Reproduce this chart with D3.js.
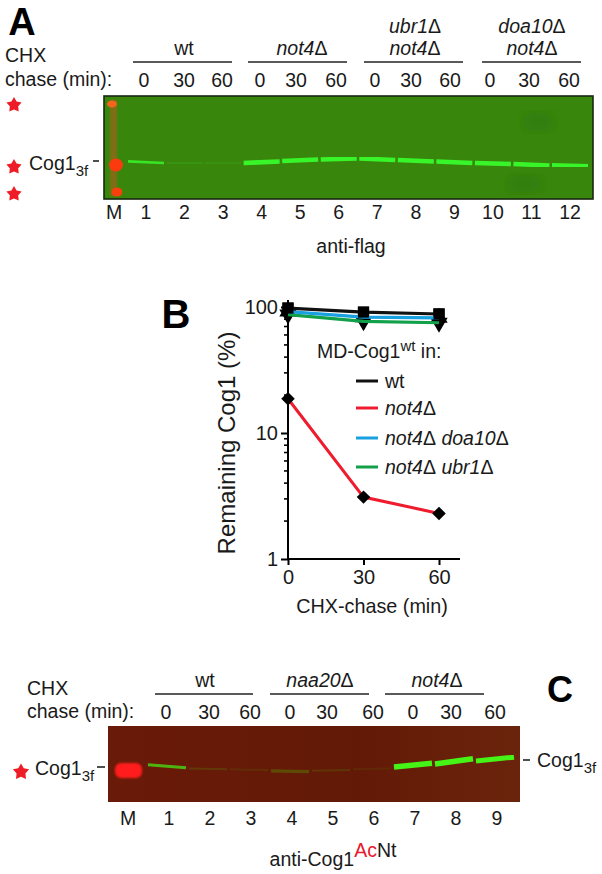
<!DOCTYPE html>
<html><head><meta charset="utf-8">
<script src="https://cdn.jsdelivr.net/npm/d3@7"></script>
<style>html,body{margin:0;padding:0;background:#fff}svg{display:block}text{font-family:"Liberation Sans",Arial,sans-serif;fill:#1a1a1a}</style>
</head><body><svg id="c" width="602" height="874"></svg>
<script>
// Panel B data
const times=[0,30,60];
const seriesNames=["wt","not4","not4 doa10","not4 ubr1"];
const wtValues=[98,91,88];
const not4Values=[18.7,3.1,2.3];
const doa10Values=[92,83,82];
const ubr1Values=[87,77,75];
const yTickValues=[1,10,100];
// Panel A data
const lanesA=[1,2,3,4,5,6,7,8,9,10,11,12];
const intensityA=[0.85,0.18,0.14,1,1,1,1,1,1,1,1,1];
const thickA=[2.6,1.5,1.5,4.6,4.6,4.6,4.6,4.6,4.6,4.6,4.6,4];
const migLeftA=[63.5,65,65,65,63.1,61.7,60.7,62.1,63.6,65,66,67];
const migRightA=[65,65,65,63.6,61.7,60.7,62.1,63.6,65,66,67.5,68];
const chaseLabels=["0","30","60"];
// Panel C data
const lanesC=[1,2,3,4,5,6,7,8,9];
const intensityC=[0.7,0.14,0.08,0.22,0.12,0.06,1,1,1];
const thickC=[3,2,2,3.4,2,2,5.6,5.6,5];
const migLeftC=[51,56,57,59,59,57,54,50,46];
const migRightC=[55,57,58,60,58,56,49,43,41];

const svg=d3.select("#c");
const defs=svg.append("defs");
defs.append("filter").attr("id","soft").append("feGaussianBlur").attr("stdDeviation",0.8);
defs.append("filter").attr("id","soft2").append("feGaussianBlur").attr("stdDeviation",6);
defs.append("filter").attr("id","soft3").append("feGaussianBlur").attr("stdDeviation",0.45);
const FS=19.5;
function txt(x,y,s,o={}){
  const t=svg.append("text").attr("x",x).attr("y",y)
    .attr("font-size",o.size||FS).attr("text-anchor",o.anchor||"middle");
  if(o.weight)t.attr("font-weight",o.weight);
  if(o.fill)t.style("fill",o.fill);
  t.text(s);return t;
}
// gene label: italic name(s), each followed by an upright delta
function gene(x,y,names,o={}){
  const t=svg.append("text").attr("x",x).attr("y",y).attr("font-size",o.size||FS).attr("text-anchor",o.anchor||"middle");
  names.forEach((n,i)=>{
    t.append("tspan").attr("font-style","italic").text((i?" ":"")+n);
    t.append("tspan").text("Δ");
  });
  return t;
}
function hline(x1,x2,y,w=1.4){svg.append("line").attr("x1",x1).attr("x2",x2).attr("y1",y).attr("y2",y).attr("stroke","#222").attr("stroke-width",w);}
const starGen=d3.lineRadial().angle(d=>d[0]).radius(d=>d[1]).curve(d3.curveLinearClosed);
function star(x,y,r){
  const pts=d3.range(10).map(i=>[i*Math.PI/5,i%2?r*0.55:r]);
  svg.append("path").attr("d",starGen(pts)).attr("transform",`translate(${x},${y})`).attr("fill","#ee1c25").attr("filter","url(#soft3)");
}
function cog(x,y){
  const t=txt(x,y,"Cog1",{anchor:"start"});
  t.append("tspan").attr("dy",6).attr("font-size",15).text("3f");
  return t;
}

/* ---------- Panel A ---------- */
txt(22,35,"A",{size:38,weight:"bold"}).style("fill","#000");
txt(5,62,"CHX",{anchor:"start"});
txt(5,86,"chase (min):",{anchor:"start"});
[[133,232],[248,347],[364,463],[482,581]].forEach(g=>hline(g[0],g[1],62));
txt(184,55,"wt");
gene(302,55,["not4"]);
gene(415,33,["ubr1"]);
gene(415,55,["not4"]);
gene(532,33,["doa10"]);
gene(532,55,["not4"]);
[[144,184,222],[260,296,336],[375,411,450],[490,529,569]].forEach(g=>g.forEach((x,i)=>txt(x,87,chaseLabels[i])));

const ax0=104,ax1=593,ay0=96,ay1=199;
svg.append("rect").attr("x",ax0).attr("y",ay0).attr("width",ax1-ax0).attr("height",ay1-ay0).attr("fill","#38860c");
[[538,122,16,10],[525,184,18,9]].forEach(b=>{
  svg.append("ellipse").attr("cx",b[0]).attr("cy",b[1]).attr("rx",b[2]).attr("ry",b[3]).attr("fill","#327d0b").attr("filter","url(#soft2)");
});
svg.append("rect").attr("x",ax0).attr("y",ay0).attr("width",ax1-ax0).attr("height",ay1-ay0).attr("fill","none").attr("stroke","#1a2612").attr("stroke-width",1.6);
svg.append("rect").attr("x",110).attr("y",100).attr("width",7).attr("height",96).attr("fill","#a0641a").attr("opacity",.7).attr("filter","url(#soft)");
[[112,104,5,3.5,"#f5641c"],[116,165,7,6.5,"#fb3a10"],[117,192,5.5,4.5,"#f8400f"]].forEach(b=>{
  svg.append("ellipse").attr("cx",b[0]).attr("cy",b[1]).attr("rx",b[2]).attr("ry",b[3]).attr("fill",b[4]).attr("filter","url(#soft3)");
});
const xA=d3.scalePoint().domain(lanesA).range([146,570]);
const yA=d3.scaleLinear().domain([0,100]).range([ay0,ay1]);
const bandsA=svg.append("g").attr("filter","url(#soft3)");
lanesA.forEach((l,i)=>{
  bandsA.append("line").attr("x1",xA(l)-18).attr("x2",xA(l)+18)
    .attr("y1",yA(migLeftA[i])).attr("y2",yA(migRightA[i]))
    .attr("stroke","#39f52a").attr("stroke-width",thickA[i]).attr("opacity",intensityA[i]);
});
txt(114,219,"M");
lanesA.forEach(l=>txt(xA(l),219,l));
txt(351,253,"anti-flag");
star(14,105,8);star(14,167,8);star(14,194,8);
cog(29,170);
hline(93,99,161,1.6);

/* ---------- Panel B ---------- */
const xB=d3.scaleLinear().domain([0,60]).range([288,439]);
const yB=d3.scaleLog().domain([1,100]).range([559,307]);
const axX=svg.append("g").attr("transform","translate(0,559)").call(d3.axisBottom(xB).tickValues(times).tickSize(6).tickFormat(d=>d));
axX.select(".domain").attr("d","M288,0H460").attr("stroke","#000").attr("stroke-width",2);
axX.selectAll(".tick line").attr("stroke","#000").attr("stroke-width",2);
axX.selectAll("text").attr("font-size",20).attr("font-family",null).attr("dy",".8em");
const axY=svg.append("g").attr("transform","translate(288,0)").call(d3.axisLeft(yB).tickValues(yTickValues).tickSize(7).tickFormat(d=>d));
axY.select(".domain").attr("d","M0,559V300").attr("stroke","#000").attr("stroke-width",2);
axY.selectAll(".tick line").attr("stroke","#000").attr("stroke-width",2);
axY.selectAll("text").attr("font-size",20);
const minor=[];[1,10].forEach(d=>[2,3,4,5,6,7,8,9].forEach(k=>minor.push(d*k)));
svg.append("g").selectAll("line").data(minor).join("line").attr("x1",284).attr("x2",288).attr("y1",d=>yB(d)).attr("y2",d=>yB(d)).attr("stroke","#000").attr("stroke-width",1.6);
svg.append("text").attr("transform","translate(235,443) rotate(-90)").attr("text-anchor","middle").attr("font-size",24).text("Remaining Cog1 (%)");
txt(372,613,"CHX-chase (min)",{size:19.8});
txt(176,328,"B",{size:40,weight:"bold"}).style("fill","#000");

const line=d3.line().x((d,i)=>xB(times[i])).y(d=>yB(d));
const colors=["#111","#ee1c2e","#18a0e0","#12a04a"];
const seriesValues=[ubr1Values,doa10Values,wtValues];
const seriesColors=[colors[3],colors[2],colors[0]];
const sym=[d3.symbolTriangle,d3.symbolTriangle,d3.symbolSquare];
seriesValues.forEach((vals,k)=>{
  vals.forEach((v,i)=>svg.append("path").attr("d",d3.symbol(sym[k],k==2?130:130)()).attr("transform",`translate(${xB(times[i])},${yB(v)})${k==0?" rotate(180)":""}`).attr("fill","#000"));
});
seriesValues.forEach((vals,k)=>{
  svg.append("path").attr("d",line(vals)).attr("fill","none").attr("stroke",seriesColors[k]).attr("stroke-width",3.2);
});
wtValues.forEach((v,i)=>svg.append("path").attr("d",d3.symbol(d3.symbolSquare,120)()).attr("transform",`translate(${xB(times[i])},${yB(v)})`).attr("fill","#000"));
svg.append("path").attr("d",line(not4Values)).attr("fill","none").attr("stroke",colors[1]).attr("stroke-width",3);
not4Values.forEach((v,i)=>svg.append("path").attr("d",d3.symbol(d3.symbolDiamond,52)()).attr("transform",`translate(${xB(times[i])},${yB(v)}) scale(1.75,1)`).attr("fill","#000"));

const lg=txt(317,358,"MD-Cog1",{anchor:"start",size:19.5});
lg.append("tspan").attr("dy",-7).attr("font-size",15).text("wt");
lg.append("tspan").attr("dy",7).text(" in:");
[381,408,438,467].forEach((y,i)=>{
  svg.append("line").attr("x1",356).attr("x2",378).attr("y1",y).attr("y2",y).attr("stroke",colors[i]).attr("stroke-width",3);
  if(i==0) txt(385,y+7,seriesNames[i],{anchor:"start"});
  else gene(385,y+7,seriesNames[i].split(" "),{anchor:"start"});
});

/* ---------- Panel C ---------- */
txt(27,695,"CHX",{anchor:"start"});
txt(27,718,"chase (min):",{anchor:"start"});
[[155,253],[270,369],[385,484]].forEach(g=>hline(g[0],g[1],694));
txt(205,687,"wt");
gene(320,687,["naa20"]);
gene(437,687,["not4"]);
[[166,209,250],[290,327,373],[413,451,495]].forEach(g=>g.forEach((x,i)=>txt(x,719,chaseLabels[i])));
txt(560,702,"C",{size:36,weight:"bold"}).style("fill","#000");
const cx0=108,cx1=520,cy0=726,cy1=802;
const grad=defs.append("linearGradient").attr("id","cbg").attr("x1",0).attr("x2",1).attr("y1",0).attr("y2",0);
grad.append("stop").attr("offset","0%").attr("stop-color","#6a1a08");
grad.append("stop").attr("offset","60%").attr("stop-color","#621a06");
grad.append("stop").attr("offset","100%").attr("stop-color","#6b240c");
svg.append("rect").attr("x",cx0).attr("y",cy0).attr("width",cx1-cx0).attr("height",cy1-cy0).attr("fill","url(#cbg)");
svg.append("rect").attr("x",115).attr("y",763).attr("width",27).attr("height",15).attr("rx",6).attr("fill","#ff1a1a").attr("filter","url(#soft)");
const xC=d3.scalePoint().domain(lanesC).range([167,495]);
const yC=d3.scaleLinear().domain([0,100]).range([cy0,cy1]);
const bandsC=svg.append("g").attr("filter","url(#soft3)");
lanesC.forEach((l,i)=>{
  bandsC.append("line").attr("x1",xC(l)-19).attr("x2",xC(l)+19)
    .attr("y1",yC(migLeftC[i])).attr("y2",yC(migRightC[i]))
    .attr("stroke","#44f414").attr("stroke-width",thickC[i]).attr("opacity",intensityC[i]);
});
const xCL=d3.scalePoint().domain(lanesC).range([169,497]);
txt(128,825,"M");
lanesC.forEach(l=>txt(xCL(l),825,l));
star(21,772,8.5);
cog(35,775);
hline(97,105,767,1.6);
hline(523,530,760,1.6);
cog(537,767);
const an=txt(333,866,"anti-Cog1");
an.append("tspan").attr("dy",-9).style("fill","#e8192c").text("Ac");
an.append("tspan").text("Nt");
</script></body></html>
